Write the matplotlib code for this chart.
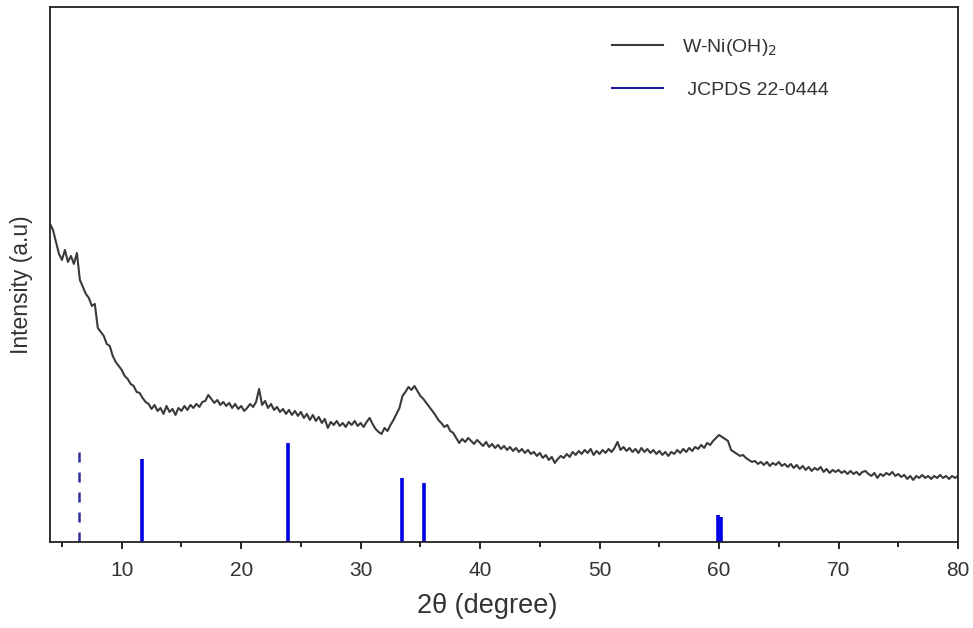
import numpy as np
import matplotlib
matplotlib.use("Agg")
import matplotlib.pyplot as plt
from matplotlib.ticker import MultipleLocator
from matplotlib.lines import Line2D

plt.rcParams['font.family'] = ['Liberation Sans', 'DejaVu Sans']

# ---- data ----
two_theta_start = 4.0
two_theta_step = 0.25
intensity = [
    318, 312, 300, 288,  282, 292, 280, 286,  278, 289, 262, 255,  248, 244, 236, 238,
    214, 210, 206, 198,  196, 186, 180, 176,  172, 166, 163, 158,  156, 150, 149, 144,
    140, 138, 133, 137,  131, 134, 128, 136,  130, 133, 127, 134,  131, 136, 132, 137,
    134, 138, 135, 140,  141, 147, 143, 139,  142, 137, 140, 136,  139, 134, 138, 133,
    136, 131, 134, 138,  135, 140, 153, 137,  141, 134, 138, 132,  135, 130, 133, 128,
    132, 127, 131, 126,  130, 124, 128, 122,  127, 121, 125, 119,  123, 114, 120, 117,
    121, 116, 119, 115,  120, 117, 121, 116,  119, 115, 120, 124,  118, 113, 110, 108,
    114, 111, 117, 122,  128, 134, 146, 150,  155, 152, 156, 151,  146, 143, 139, 135,
    131, 127, 122, 119,  115, 117, 111, 109,  104, 99, 103, 100,  104, 101, 98, 102,
    99, 96, 100, 95,  98, 94, 97, 93,  96, 92, 95, 91,  94, 90, 93, 89,
    92, 88, 90, 86,  89, 84, 87, 82,  85, 79, 83, 86,  84, 88, 85, 90,
    87, 91, 88, 92,  89, 93, 87, 91,  88, 92, 89, 93,  90, 94, 100, 92,
    95, 91, 94, 90,  93, 89, 94, 90,  93, 89, 92, 88,  91, 87, 90, 86,
    90, 88, 92, 89,  93, 90, 94, 91,  95, 93, 97, 94,  99, 97, 101, 104,
    107, 105, 103, 101,  92, 90, 88, 86,  87, 84, 82, 80,  81, 78, 80, 77,
    80, 76, 79, 77,  80, 76, 78, 75,  78, 74, 77, 73,  76, 72, 75, 71,
    74, 72, 75, 70,  73, 69, 72, 70,  72, 69, 71, 68,  71, 68, 70, 67,
    70, 71, 68, 66,  69, 64, 68, 66,  69, 67, 70, 66,  68, 65, 67, 63,
    66, 62, 66, 64,  67, 64, 66, 63,  66, 64, 67, 64,  66, 63, 66, 64,
    66,
]
two_theta = two_theta_start + two_theta_step * np.arange(len(intensity))

ref_pos = [6.43, 11.67, 23.92, 33.43, 35.33, 59.9, 60.2]
ref_int = [97, 83, 99, 64, 59, 27, 25]
ref_dashed = [True, False, False, False, False, False, False]

x_ticks = [10, 20, 30, 40, 50, 60, 70, 80]
sample_label = 'W-Ni(OH)$_2$'
ref_label = ' JCPDS 22-0444'

# ---- figure ----
fig = plt.figure(figsize=(9.73, 6.28), dpi=100)
ax = fig.add_axes([0.0514, 0.137, 0.9332, 0.852])

line_s, = ax.plot(two_theta, intensity, color='#3a3a3a', lw=1.5, label=sample_label)

for p, h, d in zip(ref_pos, ref_int, ref_dashed):
    if d:
        ax.vlines(p, 0, h, colors='#30309a', lw=1.8, linestyles=(0, (4, 4)))
    else:
        ax.vlines(p, 0, h, colors='#0000e6', lw=2.6)

ref_handle = Line2D([], [], color='#1a1aa0', lw=1.5)

ax.set_xlim(4, 80)
ax.set_ylim(0, 535)
ax.set_xticks(x_ticks)
ax.xaxis.set_minor_locator(MultipleLocator(5))
ax.tick_params(axis='x', which='major', direction='out', length=5, width=1.2,
               labelsize=15, pad=9, labelcolor='#333333')
ax.tick_params(axis='x', which='minor', direction='out', length=3.5, width=1.2)
ax.set_yticks([])
for s in ax.spines.values():
    s.set_linewidth(1.3)
    s.set_color('#222222')

ax.set_xlabel('2θ (degree)', fontsize=19.5, color='#333333')
ax.xaxis.set_label_coords(0.482, -0.095)
ax.set_ylabel('Intensity (a.u)', fontsize=16.5, color='#333333')
ax.yaxis.set_label_coords(-0.019, 0.48)

leg = ax.legend([line_s, ref_handle], [sample_label, ref_label],
                loc='upper left', bbox_to_anchor=(0.6, 0.977), frameon=False,
                fontsize=14, handlelength=2.6, labelspacing=1.2, handletextpad=1.0)
for t in leg.get_texts():
    t.set_color('#333333')

fig.savefig('out.png', dpi=100)
